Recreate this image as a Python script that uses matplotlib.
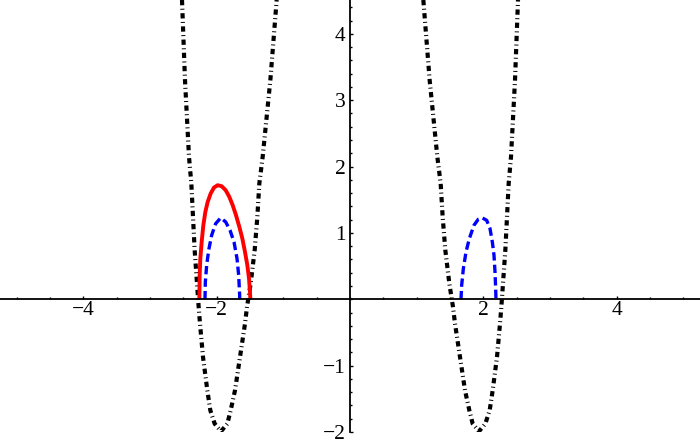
import numpy as np
import matplotlib
matplotlib.use('Agg')
import matplotlib.pyplot as plt

# values
black_right_x = [1.10, 1.195, 1.31, 1.36, 1.39, 1.43, 1.49, 1.545, 1.575, 1.65, 1.725, 1.79, 1.84,
                 1.935, 2.03, 2.095, 2.14, 2.205, 2.25, 2.27, 2.295, 2.33, 2.355, 2.38, 2.415, 2.475, 2.52]
black_right_y = [4.51, 3.30, 2.146, 1.745, 1.241, 0.739, 0.237, -0.116, -0.367, -0.87, -1.373, -1.674, -1.875,
                 -1.99, -1.875, -1.674, -1.373, -0.87, -0.367, -0.116, 0.237, 0.739, 1.241, 1.745, 2.146, 3.30, 4.51]
black_left_x = [-2.52, -2.475, -2.415, -2.38, -2.355, -2.33, -2.295, -2.27, -2.25, -2.205, -2.14, -2.095, -2.03,
                -1.935, -1.84, -1.79, -1.725, -1.65, -1.575, -1.545, -1.49, -1.43, -1.39, -1.36, -1.31, -1.195, -1.10]
black_left_y = [4.51, 3.30, 2.146, 1.745, 1.241, 0.739, 0.237, -0.116, -0.367, -0.87, -1.373, -1.674, -1.875,
                -1.99, -1.875, -1.674, -1.373, -0.87, -0.367, -0.116, 0.237, 0.739, 1.241, 1.745, 2.146, 3.30, 4.51]

red_x = [-2.26, -2.255, -2.245, -2.225, -2.20, -2.17, -2.135, -2.09, -2.04, -1.985, -1.925, -1.865,
         -1.81, -1.76, -1.71, -1.66, -1.615, -1.575, -1.54, -1.515, -1.50, -1.495]
red_y = [0.0, 0.362, 0.614, 0.864, 1.116, 1.316, 1.467, 1.594, 1.684, 1.719, 1.704, 1.644,
         1.543, 1.418, 1.267, 1.091, 0.916, 0.713, 0.513, 0.312, 0.11, 0.0]

blue_left_x = [-2.175, -2.17, -2.15, -2.12, -2.075, -2.015, -1.94, -1.865, -1.80, -1.74,
               -1.695, -1.67, -1.655, -1.655]
blue_left_y = [0.0, 0.26, 0.513, 0.739, 0.965, 1.14, 1.226, 1.166, 1.041, 0.864,
               0.614, 0.362, 0.06, 0.0]
blue_right_x = [1.665, 1.675, 1.70, 1.74, 1.79, 1.86, 1.925, 1.985, 2.05, 2.10, 2.135,
                2.16, 2.175, 2.185, 2.19]
blue_right_y = [0.0, 0.21, 0.46, 0.713, 0.915, 1.116, 1.207, 1.226, 1.19, 1.066, 0.864,
                0.663, 0.412, 0.161, 0.0]

x_major = [-4, -2, 2, 4]
y_major = [-2, -1, 1, 2, 3, 4]

plt.rcParams['font.family'] = ['Liberation Serif', 'DejaVu Serif']
plt.rcParams['lines.scale_dashes'] = False

fig = plt.figure(figsize=(7, 4.46), dpi=100)
ax = fig.add_axes([0, 14 / 446, 1, 432 / 446])

dotdash = (0, (3.8, 2.5, 0.7, 2.5))
ax.plot(black_left_x, black_left_y, color='black', lw=3.0, linestyle=dotdash, dash_capstyle='butt')
ax.plot(black_right_x, black_right_y, color='black', lw=3.0, linestyle=dotdash, dash_capstyle='butt')
ax.plot(red_x, red_y, color='#ff0000', lw=2.8, solid_capstyle='butt', solid_joinstyle='round')
ax.plot(blue_left_x, blue_left_y, color='#0000ff', lw=2.4, linestyle=(0, (6.0, 3.0)), dash_capstyle='butt')
ax.plot(blue_right_x, blue_right_y, color='#0000ff', lw=2.4, linestyle=(0, (6.0, 3.0)), dash_capstyle='butt')

ax.set_xlim(-5.25, 5.25)
ax.set_ylim(-2, 4.51)

for s in ['top', 'right']:
    ax.spines[s].set_visible(False)
ax.spines['left'].set_position(('data', 0))
ax.spines['bottom'].set_position(('data', 0))
ax.spines['left'].set_linewidth(1.3)
ax.spines['bottom'].set_linewidth(1.3)
ax.patch.set_visible(False)

ax.set_xticks(x_major)
ax.set_yticks(y_major)
ax.set_xticks(np.arange(-5.0, 5.01, 0.5), minor=True)
ax.set_yticks(np.arange(-2.0, 4.41, 0.2), minor=True)
ax.tick_params(which='major', direction='in', length=2.5, width=1.0, labelsize=15.5)
ax.tick_params(which='minor', direction='in', length=1.5, width=1.0)
ax.tick_params(axis='x', which='major', pad=1.5)
ax.tick_params(axis='y', which='major', pad=3)

fig.savefig('out.png', dpi=100)
